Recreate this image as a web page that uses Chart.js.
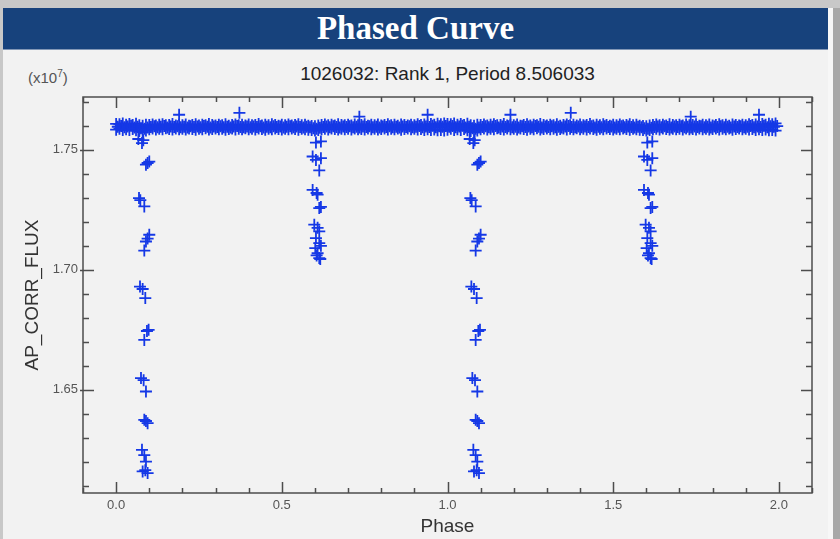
<!DOCTYPE html>
<html>
<head>
<meta charset="utf-8">
<script src="https://cdn.jsdelivr.net/npm/chart.js@4"></script>
<style>
  html, body { margin: 0; padding: 0; }
  body { width: 840px; height: 539px; background: #c8c8c8; position: relative; overflow: hidden; font-family: "Liberation Sans", Arial, sans-serif; }
  #header { position: absolute; left: 3px; top: 8px; width: 825px; height: 41px; background: #17427c; border-bottom: 1px solid #8297b6;
            color: #fff; font-family: "Liberation Serif", "Times New Roman", serif; font-weight: bold; font-size: 33px; line-height: 41px; text-align: center; }
  #panel { position: absolute; left: 3px; top: 50px; width: 825px; height: 489px; background: #f2f2f2; }
  #edge { position: absolute; left: 828px; top: 8px; width: 5px; height: 531px; background: #f7f7f7; }
  #side { position: absolute; left: 833px; top: 8px; width: 7px; height: 531px; background: #a8a8a8; }
  #scale { position: absolute; left: 28px; top: 68px; font-size: 15px; color: #555; }
  #scale sup { font-size: 10px; }
  #subtitle { position: absolute; left: 83px; width: 729px; top: 63px; text-align: center; font-size: 19px; color: #222; }
  #wrap { position: absolute; left: 0; top: 0; width: 840px; height: 539px; }
</style>
</head>
<body>
<div id="header">Phased Curve</div>
<div id="panel"></div>
<div id="edge"></div>
<div id="side"></div>
<div id="scale">(x10<sup>7</sup>)</div>
<div id="subtitle">1026032: Rank 1, Period 8.506033</div>
<div id="wrap"><canvas id="phased" width="840" height="539"></canvas></div>
<script>
// flux in units of 1e7, phase folded on P = 8.506033 d, shown over two cycles
const cycles = [0, 1];

const basePhase = [
  0.00, 0.01, 0.02, 0.03, 0.04, 0.05, 0.06, 0.07, 0.08, 0.09,
  0.10, 0.11, 0.12, 0.13, 0.14, 0.15, 0.16, 0.17, 0.18, 0.19,
  0.20, 0.21, 0.22, 0.23, 0.24, 0.25, 0.26, 0.27, 0.28, 0.29,
  0.30, 0.31, 0.32, 0.33, 0.34, 0.35, 0.36, 0.37, 0.38, 0.39,
  0.40, 0.41, 0.42, 0.43, 0.44, 0.45, 0.46, 0.47, 0.48, 0.49,
  0.50, 0.51, 0.52, 0.53, 0.54, 0.55, 0.56, 0.57, 0.58, 0.59,
  0.60, 0.61, 0.62, 0.63, 0.64, 0.65, 0.66, 0.67, 0.68, 0.69,
  0.70, 0.71, 0.72, 0.73, 0.74, 0.75, 0.76, 0.77, 0.78, 0.79,
  0.80, 0.81, 0.82, 0.83, 0.84, 0.85, 0.86, 0.87, 0.88, 0.89,
  0.90, 0.91, 0.92, 0.93, 0.94, 0.95, 0.96, 0.97, 0.98, 0.99
];
const baseHigh = [
  1.7608, 1.7606, 1.7610, 1.7604, 1.7607, 1.7603, 1.7609, 1.7602, 1.7600, 1.7604,
  1.7603, 1.7605, 1.7601, 1.7604, 1.7606, 1.7602, 1.7603, 1.7607, 1.7601, 1.7604,
  1.7602, 1.7605, 1.7600, 1.7603, 1.7606, 1.7601, 1.7604, 1.7602, 1.7607, 1.7603,
  1.7601, 1.7604, 1.7602, 1.7606, 1.7600, 1.7603, 1.7605, 1.7602, 1.7604, 1.7601,
  1.7605, 1.7602, 1.7603, 1.7607, 1.7601, 1.7604, 1.7602, 1.7606, 1.7603, 1.7600,
  1.7604, 1.7602, 1.7605, 1.7601, 1.7603, 1.7606, 1.7602, 1.7604, 1.7600, 1.7599,
  1.7598, 1.7601, 1.7603, 1.7605, 1.7602, 1.7604, 1.7601, 1.7606, 1.7603, 1.7602,
  1.7604, 1.7601, 1.7605, 1.7602, 1.7603, 1.7606, 1.7600, 1.7604, 1.7602, 1.7605,
  1.7601, 1.7603, 1.7606, 1.7602, 1.7604, 1.7600, 1.7605, 1.7603, 1.7601, 1.7604,
  1.7602, 1.7606, 1.7603, 1.7605, 1.7601, 1.7607, 1.7604, 1.7609, 1.7606, 1.7610
];
const baseLow = [
  1.7584, 1.7588, 1.7582, 1.7586, 1.7583, 1.7587, 1.7581, 1.7578, 1.7574, 1.7580,
  1.7586, 1.7589, 1.7585, 1.7588, 1.7586, 1.7590, 1.7587, 1.7585, 1.7589, 1.7586,
  1.7588, 1.7585, 1.7589, 1.7587, 1.7584, 1.7588, 1.7586, 1.7590, 1.7585, 1.7587,
  1.7589, 1.7586, 1.7588, 1.7584, 1.7587, 1.7589, 1.7585, 1.7588, 1.7586, 1.7590,
  1.7586, 1.7588, 1.7585, 1.7589, 1.7587, 1.7584, 1.7588, 1.7586, 1.7589, 1.7587,
  1.7585, 1.7588, 1.7586, 1.7589, 1.7587, 1.7584, 1.7588, 1.7586, 1.7584, 1.7582,
  1.7580, 1.7583, 1.7586, 1.7588, 1.7585, 1.7589, 1.7587, 1.7585, 1.7588, 1.7586,
  1.7588, 1.7585, 1.7589, 1.7586, 1.7587, 1.7585, 1.7589, 1.7586, 1.7588, 1.7585,
  1.7587, 1.7589, 1.7585, 1.7588, 1.7586, 1.7589, 1.7584, 1.7587, 1.7589, 1.7586,
  1.7588, 1.7585, 1.7587, 1.7583, 1.7586, 1.7582, 1.7585, 1.7581, 1.7583, 1.7580
];
// in-between samples of the continuum
const midPhase = [
  0.005, 0.015, 0.025, 0.035, 0.045, 0.055, 0.065, 0.075, 0.085, 0.095,
  0.105, 0.115, 0.125, 0.135, 0.145, 0.155, 0.165, 0.175, 0.185, 0.195,
  0.205, 0.215, 0.225, 0.235, 0.245, 0.255, 0.265, 0.275, 0.285, 0.295,
  0.305, 0.315, 0.325, 0.335, 0.345, 0.355, 0.365, 0.375, 0.385, 0.395,
  0.405, 0.415, 0.425, 0.435, 0.445, 0.455, 0.465, 0.475, 0.485, 0.495,
  0.505, 0.515, 0.525, 0.535, 0.545, 0.555, 0.565, 0.575, 0.585, 0.595,
  0.605, 0.615, 0.625, 0.635, 0.645, 0.655, 0.665, 0.675, 0.685, 0.695,
  0.705, 0.715, 0.725, 0.735, 0.745, 0.755, 0.765, 0.775, 0.785, 0.795,
  0.805, 0.815, 0.825, 0.835, 0.845, 0.855, 0.865, 0.875, 0.885, 0.895,
  0.905, 0.915, 0.925, 0.935, 0.945, 0.955, 0.965, 0.975, 0.985, 0.995
];
const midFlux = [
  1.7596, 1.7599, 1.7594, 1.7597, 1.7600, 1.7593, 1.7596, 1.7590, 1.7588, 1.7593,
  1.7595, 1.7598, 1.7594, 1.7596, 1.7599, 1.7593, 1.7597, 1.7595, 1.7598, 1.7594,
  1.7596, 1.7593, 1.7598, 1.7595, 1.7597, 1.7594, 1.7599, 1.7596, 1.7593, 1.7597,
  1.7595, 1.7598, 1.7594, 1.7596, 1.7593, 1.7597, 1.7599, 1.7595, 1.7594, 1.7597,
  1.7594, 1.7597, 1.7595, 1.7598, 1.7593, 1.7596, 1.7594, 1.7598, 1.7595, 1.7597,
  1.7593, 1.7596, 1.7598, 1.7594, 1.7597, 1.7595, 1.7593, 1.7596, 1.7594, 1.7590,
  1.7588, 1.7592, 1.7595, 1.7597, 1.7594, 1.7598, 1.7595, 1.7593, 1.7597, 1.7595,
  1.7598, 1.7594, 1.7596, 1.7593, 1.7597, 1.7595, 1.7598, 1.7594, 1.7596, 1.7593,
  1.7597, 1.7595, 1.7598, 1.7594, 1.7596, 1.7593, 1.7597, 1.7595, 1.7598, 1.7594,
  1.7596, 1.7599, 1.7594, 1.7597, 1.7595, 1.7600, 1.7594, 1.7598, 1.7596, 1.7599
];

// a few high points above the continuum
const spikePhase = [0.19, 0.372, 0.734, 0.94];
const spikeFlux = [1.7646, 1.7654, 1.7638, 1.7646];

// primary eclipse
const primPhase = [
  0.067, 0.078, 0.082, 0.100, 0.090, 0.095, 0.069, 0.085, 0.073, 0.100, 0.090, 0.085, 0.095,
  0.072, 0.088, 0.080, 0.098, 0.085, 0.093, 0.075, 0.090, 0.083, 0.085, 0.095, 0.090,
  0.078, 0.090, 0.085, 0.080, 0.095, 0.088
];
const primFlux = [
  1.7545, 1.7528, 1.7540, 1.7451, 1.7438, 1.7445, 1.7299, 1.7264, 1.7290, 1.7146, 1.7118, 1.7080, 1.7130,
  1.6930, 1.6882, 1.6920, 1.6750, 1.6708, 1.6745, 1.6549, 1.6493, 1.6540, 1.6375, 1.6361, 1.6370,
  1.6250, 1.6201, 1.6228, 1.6160, 1.6153, 1.6165
];

// secondary eclipse
const secPhase = [
  0.618, 0.603, 0.593, 0.603, 0.618, 0.613, 0.593, 0.608, 0.605, 0.613, 0.618, 0.598, 0.608,
  0.613, 0.603, 0.613, 0.618, 0.601, 0.608, 0.605, 0.613, 0.616
];
const secFlux = [
  1.7535, 1.7530, 1.7472, 1.7458, 1.7465, 1.7414, 1.7333, 1.7313, 1.7320, 1.7257, 1.7262, 1.7188, 1.7175,
  1.7160, 1.7132, 1.7111, 1.7100, 1.7090, 1.7069, 1.7060, 1.7049, 1.7045
];

const xTicks = [0, 0.5, 1, 1.5, 2];
const yTicks = [1.65, 1.70, 1.75];
const xMinor = [-0.1, 0, 0.1, 0.2, 0.3, 0.4, 0.5, 0.6, 0.7, 0.8, 0.9, 1, 1.1, 1.2, 1.3, 1.4, 1.5, 1.6, 1.7, 1.8, 1.9, 2, 2.1];
const yMinor = [1.61, 1.62, 1.63, 1.64, 1.65, 1.66, 1.67, 1.68, 1.69, 1.70, 1.71, 1.72, 1.73, 1.74, 1.75, 1.76, 1.77];

function folded(phases, flux) {
  return cycles.flatMap(c => phases.map((p, i) => ({ x: p + c, y: flux[i] })));
}

const markColor = '#1538e6';
const frameColor = '#4d4d4d';

// box with inward ticks on all four sides
const framePlugin = {
  id: 'frame',
  afterDraw(chart) {
    const { ctx, chartArea: a, scales: { x, y } } = chart;
    ctx.save();
    ctx.strokeStyle = frameColor;
    ctx.lineWidth = 1.5;
    ctx.strokeRect(a.left, a.top, a.right - a.left, a.bottom - a.top);
    ctx.beginPath();
    xMinor.forEach(v => {
      const px = Math.round(x.getPixelForValue(v)) + 0.5;
      const len = xTicks.includes(v) ? 11 : 5;
      ctx.moveTo(px, a.bottom); ctx.lineTo(px, a.bottom - len);
      ctx.moveTo(px, a.top); ctx.lineTo(px, a.top + len);
    });
    yMinor.forEach(v => {
      const py = Math.round(y.getPixelForValue(v)) + 0.5;
      const major = yTicks.some(t => Math.abs(t - v) < 1e-9);
      const len = major ? 11 : 6;
      ctx.moveTo(a.left - (major ? 3 : 0), py); ctx.lineTo(a.left + len, py);
      ctx.moveTo(a.right, py); ctx.lineTo(a.right - len, py);
    });
    ctx.stroke();
    ctx.restore();
  }
};

const pointStyle = {
  pointStyle: 'cross',
  pointRadius: 6,
  borderWidth: 1.8,
  borderColor: markColor,
  backgroundColor: markColor
};

new Chart(document.getElementById('phased'), {
  type: 'scatter',
  data: {
    datasets: [
      {
        label: 'continuum',
        data: folded(basePhase, baseHigh).concat(folded(midPhase, midFlux), folded(basePhase, baseLow)),
        ...pointStyle
      },
      { label: 'spikes', data: folded(spikePhase, spikeFlux), ...pointStyle },
      { label: 'primary', data: folded(primPhase, primFlux), ...pointStyle },
      { label: 'secondary', data: folded(secPhase, secFlux), ...pointStyle }
    ]
  },
  options: {
    responsive: false,
    animation: false,
    layout: { padding: { left: 0, right: 28, top: 97, bottom: 0 } },
    plugins: {
      legend: { display: false },
      tooltip: { enabled: false },
      title: { display: false }
    },
    scales: {
      x: {
        type: 'linear',
        min: -0.1,
        max: 2.1,
        afterBuildTicks: s => { s.ticks = xTicks.map(v => ({ value: v })); },
        afterFit: s => { s.height = 46; },
        grid: { display: false, drawTicks: false },
        border: { display: false },
        ticks: { color: '#555', padding: 5, font: { family: 'Liberation Sans', size: 13 }, callback: v => v.toFixed(1) },
        title: { display: true, text: 'Phase', color: '#333', font: { family: 'Liberation Sans', size: 19 }, padding: { top: 0, bottom: 1 } }
      },
      y: {
        min: 1.607,
        max: 1.772,
        afterBuildTicks: s => { s.ticks = yTicks.map(v => ({ value: v })); },
        afterFit: s => { s.width = 83; },
        grid: { display: false, drawTicks: false },
        border: { display: false },
        ticks: { color: '#555', padding: 5, font: { family: 'Liberation Sans', size: 13 }, callback: v => v.toFixed(2) },
        title: { display: true, text: 'AP_CORR_FLUX', color: '#333', font: { family: 'Liberation Sans', size: 19 }, padding: { top: 21, bottom: 0 } }
      }
    }
  },
  plugins: [framePlugin]
});
</script>
</body>
</html>
